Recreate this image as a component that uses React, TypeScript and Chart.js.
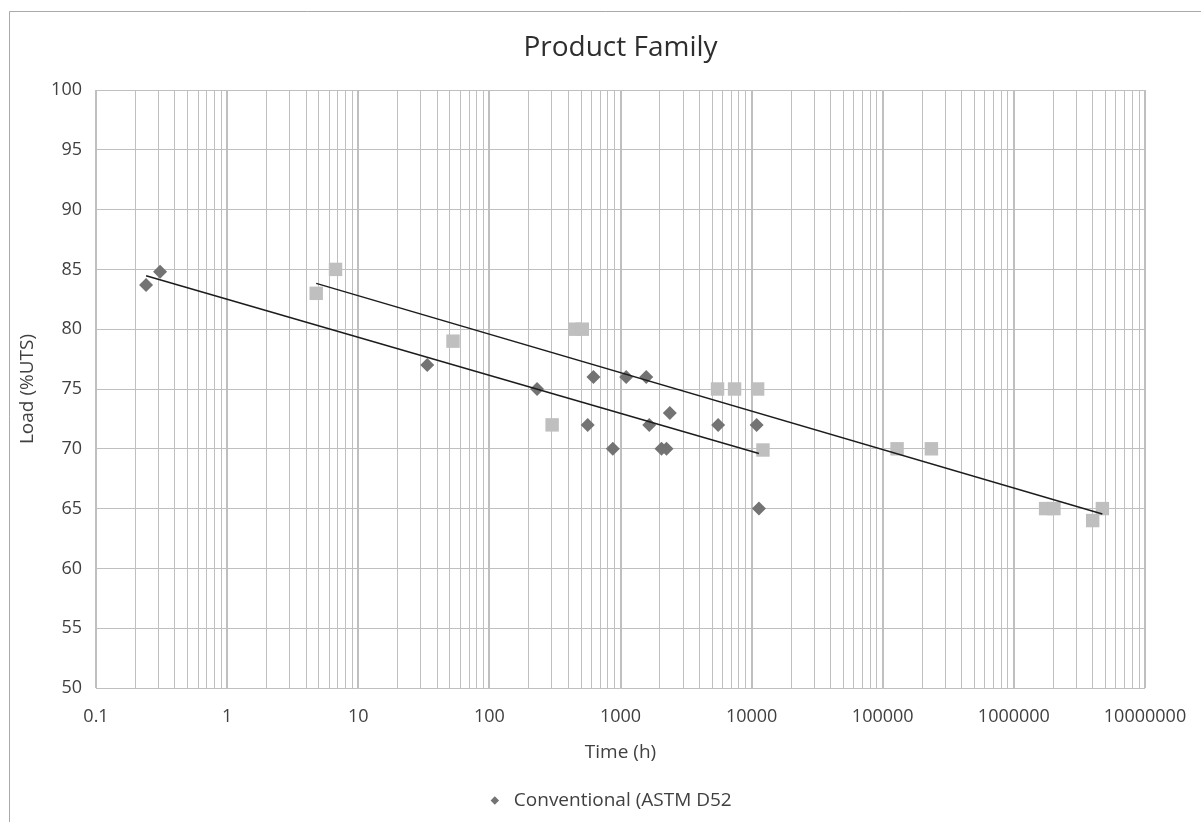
import React, { useEffect, useRef } from 'react';
import { Chart, registerables } from 'chart.js';

Chart.register(...registerables);

const FONT = "'Open Sans', 'Noto Sans', sans-serif";

const chartTitle = 'Product Family';
const xAxisTitle = 'Time (h)';
const yAxisTitle = 'Load (%UTS)';
const legendLabel = 'Conventional (ASTM D52';
const otherLabel = 'Series 2';

const xDecades = [0.1, 1, 10, 100, 1000, 10000, 100000, 1000000, 10000000];
const xTickLabels = ['0.1', '1', '10', '100', '1000', '10000', '100000', '1000000', '10000000'];
const yMin = 50;
const yMax = 100;
const yStep = 5;

// Conventional (diamonds)
const conventionalTime = [0.241, 0.308, 33.6, 231, 562, 622, 874, 1105, 1571, 1656, 2055, 2244, 2378, 5555, 10920, 11370];
const conventionalLoad = [83.7, 84.8, 77, 75, 72, 76, 70, 76, 76, 72, 70, 70, 73, 72, 72, 65];

// Second series (squares)
const otherTime = [4.78, 6.71, 52.8, 301, 448, 511, 5496, 7413, 11110, 12200, 128600, 235000, 1746000, 2020000, 3990000, 4730000];
const otherLoad = [83, 85, 79, 72, 80, 80, 75, 75, 75, 69.9, 70, 70, 65, 65, 64, 65];

// Logarithmic trend lines (end points)
const trendConvTime = [0.241, 11370];
const trendConvLoad = [84.47, 69.6];
const trendOtherTime = [4.78, 4730000];
const trendOtherLoad = [83.83, 64.55];

const toPoints = (xs: number[], ys: number[]) => xs.map((x, i) => ({ x, y: ys[i] }));

const xGridValues: number[] = [];
xDecades.forEach((d, i) => {
  if (i === xDecades.length - 1) {
    xGridValues.push(d);
  } else {
    for (let k = 1; k <= 9; k++) xGridValues.push(parseFloat((d * k).toPrecision(6)));
  }
});

const decadeIndex = (v: number) => xDecades.findIndex((d) => Math.abs(v / d - 1) < 1e-9);

const outerBorder = {
  id: 'outerBorder',
  beforeDraw(chart: any) {
    const { ctx, width, height } = chart;
    ctx.save();
    ctx.strokeStyle = '#a9a9a9';
    ctx.lineWidth = 1;
    ctx.beginPath();
    ctx.moveTo(9.5, height);
    ctx.lineTo(9.5, 11.5);
    ctx.lineTo(width, 11.5);
    ctx.stroke();
    ctx.restore();
  },
};

export default function App() {
  const ref = useRef<HTMLCanvasElement>(null);

  useEffect(() => {
    const canvas = ref.current;
    if (!canvas) return;
    const chart = new Chart(canvas, {
      type: 'scatter',
      data: {
        datasets: [
          {
            label: 'Trend 1',
            data: toPoints(trendConvTime, trendConvLoad),
            showLine: true,
            borderColor: '#1c1c1c',
            borderWidth: 1.5,
            pointRadius: 0,
            fill: false,
          },
          {
            label: 'Trend 2',
            data: toPoints(trendOtherTime, trendOtherLoad),
            showLine: true,
            borderColor: '#1c1c1c',
            borderWidth: 1.5,
            pointRadius: 0,
            fill: false,
          },
          {
            label: legendLabel,
            data: toPoints(conventionalTime, conventionalLoad),
            pointStyle: 'rectRot',
            pointRadius: 7,
            backgroundColor: '#737373',
            borderColor: '#737373',
            pointBorderWidth: 0,
            borderWidth: 0,
          },
          {
            label: otherLabel,
            data: toPoints(otherTime, otherLoad),
            pointStyle: 'rect',
            pointRadius: 9.5,
            backgroundColor: '#bfbfbf',
            borderColor: '#bfbfbf',
            pointBorderWidth: 0,
            borderWidth: 0,
          },
        ],
      },
      options: {
        responsive: false,
        animation: false,
        devicePixelRatio: 1,
        events: [],
        layout: { padding: { left: 16, right: 0, top: 0, bottom: 2 } },
        plugins: {
          title: {
            display: true,
            text: chartTitle,
            fullSize: false,
            color: '#2e2e2e',
            font: { family: FONT, size: 28, weight: 'normal' },
            padding: { top: 31, bottom: 25.4 },
          },
          legend: {
            display: true,
            position: 'bottom',
            fullSize: true,
            labels: {
              usePointStyle: true,
              boxWidth: 19,
              boxHeight: 6,
              padding: 19,
              color: '#404040',
              font: { family: FONT, size: 19 },
              filter: (item: any) => item.datasetIndex === 2,
            },
          },
          tooltip: { enabled: false },
        },
        scales: {
          x: {
            type: 'logarithmic',
            position: 'bottom',
            min: xDecades[0],
            max: xDecades[xDecades.length - 1],
            border: { display: false },
            grid: {
              drawTicks: false,
              color: '#bfbfbf',
              lineWidth: (ctx: any) => (ctx.tick && decadeIndex(ctx.tick.value) >= 0 ? 2 : 1),
            },
            afterBuildTicks: (scale: any) => {
              scale.ticks = xGridValues.map((v) => ({ value: v }));
            },
            afterFit: (scale: any) => {
              scale.height = 84;
              scale.paddingLeft = 0;
              scale.paddingRight = 56;
            },
            ticks: {
              autoSkip: false,
              maxRotation: 0,
              minRotation: 0,
              padding: 18,
              color: '#404040',
              font: { family: FONT, size: 18 },
              callback: (value: any) => {
                const i = decadeIndex(Number(value));
                return i >= 0 ? xTickLabels[i] : '';
              },
            },
            title: {
              display: true,
              text: xAxisTitle,
              color: '#404040',
              font: { family: FONT, size: 19 },
              padding: { top: 0, bottom: 8 },
            },
          },
          y: {
            type: 'linear',
            min: yMin,
            max: yMax,
            border: { display: false },
            grid: { drawTicks: false, color: '#bfbfbf', lineWidth: 1 },
            afterFit: (scale: any) => {
              scale.width = 80;
            },
            ticks: {
              stepSize: yStep,
              padding: 14,
              color: '#404040',
              font: { family: FONT, size: 18 },
            },
            title: {
              display: true,
              text: yAxisTitle,
              color: '#404040',
              font: { family: FONT, size: 19 },
              padding: { top: 0, bottom: 0 },
            },
          },
        },
      },
      plugins: [outerBorder],
    } as any);
    return () => chart.destroy();
  }, []);

  return (
    <div style={{ position: 'fixed', left: 0, top: 0, width: 1201, height: 822, background: '#ffffff' }}>
      <canvas ref={ref} width={1201} height={822} style={{ display: 'block' }} />
    </div>
  );
}
